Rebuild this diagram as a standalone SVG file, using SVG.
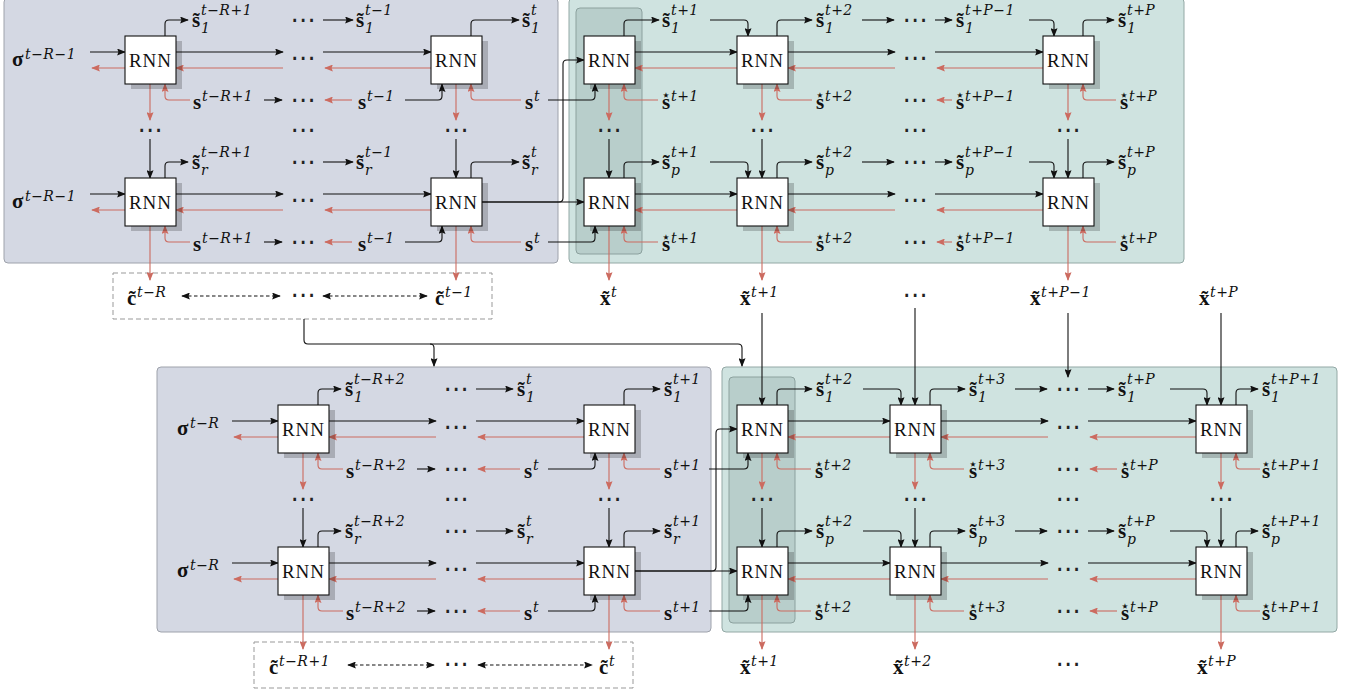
<svg xmlns="http://www.w3.org/2000/svg" width="1348" height="689" viewBox="0 0 1348 689">
<style>
.pl{fill:#d4d8e3;stroke:#9ea2ab;stroke-width:1}
.pt{fill:#cfe3e0;stroke:#93a8a5;stroke-width:1}
.pi{fill:#b8cecb;stroke:#8ca19e;stroke-width:1}
.db{fill:#fff;stroke:#999;stroke-width:1;stroke-dasharray:5 3}
.k{fill:none;stroke:#111;stroke-width:1.1;marker-end:url(#ak)}
.r{fill:none;stroke:#cc6b60;stroke-width:1.1;marker-end:url(#ar)}
.d{fill:none;stroke:#111;stroke-width:1.1;stroke-dasharray:3.5 2.5;marker-start:url(#ak);marker-end:url(#ak)}
.sh{fill:#000;fill-opacity:0.2}
.box{fill:#fff;stroke:#111;stroke-width:1.1}
.rnn{font-family:"Liberation Serif","Times New Roman",serif;font-size:19px;text-anchor:middle;letter-spacing:1px;fill:#111}
.b{font-family:"Liberation Serif","Times New Roman",serif;font-weight:bold;font-size:21px;fill:#111}
.sc{font-family:"DejaVu Serif",serif;font-style:italic;font-weight:normal;font-size:14px;letter-spacing:0.5px}
.st{font-family:"DejaVu Sans",sans-serif;font-size:15px;text-anchor:middle;fill:#111}
.dt{font-family:"DejaVu Sans",sans-serif;font-size:25px;text-anchor:middle;dominant-baseline:central;fill:#222}
</style>
<defs>
<marker id="ak" viewBox="0 0 10 8" refX="9" refY="4" markerWidth="9" markerHeight="7" orient="auto-start-reverse" markerUnits="userSpaceOnUse"><path d="M0,0 L10,4 L0,8 L1.5,4 z" fill="#111"/></marker>
<marker id="ar" viewBox="0 0 10 8" refX="9" refY="4" markerWidth="9" markerHeight="7" orient="auto-start-reverse" markerUnits="userSpaceOnUse"><path d="M0,0 L10,4 L0,8 L1.5,4 z" fill="#cc6b60"/></marker>
<g id="rnnbox"><rect class="sh" x="6" y="5" width="51" height="48"/><rect class="box" width="51" height="48"/><text class="rnn" x="25.5" y="30.5">RNN</text></g>
</defs>

<g id="panels">
<rect class="pl" x="4" y="-2" width="554" height="265" rx="4"/>
<rect class="pt" x="569" y="-2" width="615" height="265" rx="4"/>
<rect class="pi" x="576" y="8" width="66" height="246" rx="4"/>
<rect class="db" x="113" y="273" width="379" height="46"/>
<rect class="pl" x="157" y="367" width="554" height="265" rx="4"/>
<rect class="pt" x="722" y="367" width="615" height="265" rx="4"/>
<rect class="pi" x="729" y="377" width="66" height="246" rx="4"/>
<rect class="db" x="254" y="642" width="379" height="46"/>
</g>

<g id="connectors">
<!-- top-left row 1 -->
<path class="k" d="M90,52 H125"/>
<path class="r" d="M125,68 H92"/>
<path class="k" d="M176,52 H283"/>
<path class="r" d="M283,68 H176"/>
<path class="k" d="M323,52 H431"/>
<path class="r" d="M431,68 H325"/>
<path class="k" d="M165,36 V24 Q165,20 169,20 H188"/>
<path class="r" d="M190,100 H169 Q165,100 165,96 V84"/>
<path class="k" d="M264,100 H282"/>
<path class="k" d="M323,20 H353"/>
<path class="r" d="M352,100 H325"/>
<path class="k" d="M405,100 H438 Q442,100 442,96 V84"/>
<path class="k" d="M471,36 V24 Q471,20 475,20 H519"/>
<path class="r" d="M521,100 H475 Q471,100 471,96 V84"/>
<path class="k" d="M548,100 H591 Q595,100 595,96 V84"/>
<path class="r" d="M150,84 V120"/>
<path class="r" d="M456,84 V120"/>
<!-- top-left row 2 -->
<path class="k" d="M90,194 H125"/>
<path class="r" d="M125,210 H92"/>
<path class="k" d="M176,194 H283"/>
<path class="r" d="M283,210 H176"/>
<path class="k" d="M323,194 H431"/>
<path class="r" d="M431,210 H325"/>
<path class="k" d="M165,178 V166 Q165,162 169,162 H188"/>
<path class="r" d="M190,242 H169 Q165,242 165,238 V226"/>
<path class="k" d="M264,242 H282"/>
<path class="k" d="M323,162 H353"/>
<path class="r" d="M352,242 H325"/>
<path class="k" d="M405,242 H438 Q442,242 442,238 V226"/>
<path class="k" d="M471,178 V166 Q471,162 475,162 H519"/>
<path class="r" d="M521,242 H475 Q471,242 471,238 V226"/>
<path class="k" d="M548,242 H591 Q595,242 595,238 V226"/>
<path class="k" d="M150,139 V178"/>
<path class="k" d="M456,139 V178"/>
<path class="r" d="M150,226 V280"/>
<path class="r" d="M456,226 V280"/>
<path class="k" d="M482,202 H584"/>
<path class="k" d="M482,202 H559 Q563,202 563,198 V64 Q563,60 567,60 H584"/>
<!-- top-right row 1 -->
<path class="k" d="M624,36 V24 Q624,20 628,20 H659"/>
<path class="k" d="M710,20 H744 Q748,20 748,24 V36"/>
<path class="k" d="M635,52 H737"/>
<path class="r" d="M737,68 H635"/>
<path class="r" d="M658,100 H628 Q624,100 624,96 V84"/>
<path class="r" d="M609,84 V120"/>
<path class="k" d="M777,36 V24 Q777,20 781,20 H812"/>
<path class="k" d="M862,20 H894"/>
<path class="k" d="M935,20 H952"/>
<path class="k" d="M1029,20 H1050 Q1054,20 1054,24 V36"/>
<path class="k" d="M788,52 H895"/>
<path class="k" d="M935,52 H1043"/>
<path class="r" d="M1043,68 H937"/>
<path class="r" d="M895,68 H788"/>
<path class="r" d="M812,100 H781 Q777,100 777,96 V84"/>
<path class="r" d="M952,100 H937"/>
<path class="r" d="M762,84 V120"/>
<path class="k" d="M1083,36 V24 Q1083,20 1087,20 H1114"/>
<path class="r" d="M1116,100 H1087 Q1083,100 1083,96 V84"/>
<path class="r" d="M1068,84 V120"/>
<!-- top-right row 2 -->
<path class="k" d="M624,178 V166 Q624,162 628,162 H659"/>
<path class="k" d="M710,162 H744 Q748,162 748,166 V178"/>
<path class="k" d="M635,194 H737"/>
<path class="r" d="M737,210 H635"/>
<path class="r" d="M658,242 H628 Q624,242 624,238 V226"/>
<path class="k" d="M777,178 V166 Q777,162 781,162 H812"/>
<path class="k" d="M862,162 H894"/>
<path class="k" d="M935,162 H952"/>
<path class="k" d="M1029,162 H1050 Q1054,162 1054,166 V178"/>
<path class="k" d="M788,194 H895"/>
<path class="k" d="M935,194 H1043"/>
<path class="r" d="M1043,210 H937"/>
<path class="r" d="M895,210 H788"/>
<path class="r" d="M812,242 H781 Q777,242 777,238 V226"/>
<path class="r" d="M952,242 H937"/>
<path class="k" d="M1083,178 V166 Q1083,162 1087,162 H1114"/>
<path class="r" d="M1116,242 H1087 Q1083,242 1083,238 V226"/>
<path class="k" d="M609,139 V178"/>
<path class="k" d="M762,139 V178"/>
<path class="k" d="M1068,139 V178"/>
<path class="r" d="M609,226 V280"/>
<path class="r" d="M762,226 V280"/>
<path class="r" d="M1068,226 V280"/>
<!-- between top and bottom -->
<path class="d" d="M182,296 H280"/>
<path class="d" d="M323,296 H427"/>
<path class="k" d="M304,319 V340 Q304,344 308,344 H738 Q742,344 742,348 V366"/>
<path class="k" d="M430,344 Q434,344 434,348 V366"/>
<path class="k" d="M762,313 V405"/>
<path class="k" d="M915,308 V405"/>
<path class="k" d="M1068,313 V377"/>
<path class="k" d="M1221,313 V405"/>
<!-- bottom-left row 1 -->
<path class="k" d="M232,421 H278"/>
<path class="r" d="M278,437 H234"/>
<path class="k" d="M329,421 H436"/>
<path class="r" d="M436,437 H329"/>
<path class="k" d="M476,421 H584"/>
<path class="r" d="M584,437 H478"/>
<path class="k" d="M318,405 V393 Q318,389 322,389 H341"/>
<path class="r" d="M343,469 H322 Q318,469 318,465 V453"/>
<path class="k" d="M417,469 H435"/>
<path class="k" d="M476,389 H513"/>
<path class="r" d="M520,469 H478"/>
<path class="k" d="M548,469 H591 Q595,469 595,465 V453"/>
<path class="k" d="M624,405 V393 Q624,389 628,389 H660"/>
<path class="r" d="M660,469 H628 Q624,469 624,465 V453"/>
<path class="k" d="M709,469 H744 Q748,469 748,465 V453"/>
<path class="r" d="M303,453 V489"/>
<path class="r" d="M609,453 V489"/>
<!-- bottom-left row 2 -->
<path class="k" d="M232,563 H278"/>
<path class="r" d="M278,579 H234"/>
<path class="k" d="M329,563 H436"/>
<path class="r" d="M436,579 H329"/>
<path class="k" d="M476,563 H584"/>
<path class="r" d="M584,579 H478"/>
<path class="k" d="M318,547 V535 Q318,531 322,531 H341"/>
<path class="r" d="M343,611 H322 Q318,611 318,607 V595"/>
<path class="k" d="M417,611 H435"/>
<path class="k" d="M476,531 H513"/>
<path class="r" d="M520,611 H478"/>
<path class="k" d="M548,611 H591 Q595,611 595,607 V595"/>
<path class="k" d="M624,547 V535 Q624,531 628,531 H660"/>
<path class="r" d="M660,611 H628 Q624,611 624,607 V595"/>
<path class="k" d="M709,611 H744 Q748,611 748,607 V595"/>
<path class="k" d="M303,508 V547"/>
<path class="k" d="M609,508 V547"/>
<path class="r" d="M303,595 V649"/>
<path class="r" d="M609,595 V649"/>
<path class="k" d="M635,571 H737"/>
<path class="k" d="M635,571 H712 Q716,571 716,567 V433 Q716,429 720,429 H737"/>
<!-- bottom-right row 1 -->
<path class="k" d="M777,405 V393 Q777,389 781,389 H812"/>
<path class="k" d="M863,389 H897 Q901,389 901,393 V405"/>
<path class="k" d="M788,421 H890"/>
<path class="r" d="M890,437 H788"/>
<path class="r" d="M811,469 H781 Q777,469 777,465 V453"/>
<path class="r" d="M762,453 V489"/>
<path class="k" d="M930,405 V393 Q930,389 934,389 H965"/>
<path class="k" d="M1015,389 H1047"/>
<path class="k" d="M1088,389 H1114"/>
<path class="k" d="M1170,389 H1203 Q1207,389 1207,393 V405"/>
<path class="k" d="M941,421 H1048"/>
<path class="k" d="M1088,421 H1196"/>
<path class="r" d="M1196,437 H1090"/>
<path class="r" d="M1048,437 H941"/>
<path class="r" d="M964,469 H934 Q930,469 930,465 V453"/>
<path class="r" d="M1117,469 H1090"/>
<path class="r" d="M915,453 V489"/>
<path class="k" d="M1236,405 V393 Q1236,389 1240,389 H1258"/>
<path class="r" d="M1260,469 H1240 Q1236,469 1236,465 V453"/>
<path class="r" d="M1221,453 V489"/>
<!-- bottom-right row 2 -->
<path class="k" d="M777,547 V535 Q777,531 781,531 H812"/>
<path class="k" d="M863,531 H897 Q901,531 901,535 V547"/>
<path class="k" d="M788,563 H890"/>
<path class="r" d="M890,579 H788"/>
<path class="r" d="M811,611 H781 Q777,611 777,607 V595"/>
<path class="k" d="M930,547 V535 Q930,531 934,531 H965"/>
<path class="k" d="M1015,531 H1047"/>
<path class="k" d="M1088,531 H1114"/>
<path class="k" d="M1170,531 H1203 Q1207,531 1207,535 V547"/>
<path class="k" d="M941,563 H1048"/>
<path class="k" d="M1088,563 H1196"/>
<path class="r" d="M1196,579 H1090"/>
<path class="r" d="M1048,579 H941"/>
<path class="r" d="M964,611 H934 Q930,611 930,607 V595"/>
<path class="r" d="M1117,611 H1090"/>
<path class="k" d="M1236,547 V535 Q1236,531 1240,531 H1258"/>
<path class="r" d="M1260,611 H1240 Q1236,611 1236,607 V595"/>
<path class="k" d="M762,508 V547"/>
<path class="k" d="M915,508 V547"/>
<path class="k" d="M1221,508 V547"/>
<path class="r" d="M762,595 V649"/>
<path class="r" d="M915,595 V649"/>
<path class="r" d="M1221,595 V649"/>
<path class="d" d="M348,665 H434"/>
<path class="d" d="M478,665 H592"/>
</g>

<g id="nodes">
<g id="rnn-a1"><use href="#rnnbox" x="125" y="36"/></g>
<g id="rnn-a2"><use href="#rnnbox" x="125" y="178"/></g>
<g id="rnn-b1"><use href="#rnnbox" x="431" y="36"/></g>
<g id="rnn-b2"><use href="#rnnbox" x="431" y="178"/></g>
<g id="rnn-c1"><use href="#rnnbox" x="584" y="36"/></g>
<g id="rnn-c2"><use href="#rnnbox" x="584" y="178"/></g>
<g id="rnn-d1"><use href="#rnnbox" x="737" y="36"/></g>
<g id="rnn-d2"><use href="#rnnbox" x="737" y="178"/></g>
<g id="rnn-e1"><use href="#rnnbox" x="1043" y="36"/></g>
<g id="rnn-e2"><use href="#rnnbox" x="1043" y="178"/></g>
<g id="rnn-f1"><use href="#rnnbox" x="278" y="405"/></g>
<g id="rnn-f2"><use href="#rnnbox" x="278" y="547"/></g>
<g id="rnn-g1"><use href="#rnnbox" x="584" y="405"/></g>
<g id="rnn-g2"><use href="#rnnbox" x="584" y="547"/></g>
<g id="rnn-h1"><use href="#rnnbox" x="737" y="405"/></g>
<g id="rnn-h2"><use href="#rnnbox" x="737" y="547"/></g>
<g id="rnn-i1"><use href="#rnnbox" x="890" y="405"/></g>
<g id="rnn-i2"><use href="#rnnbox" x="890" y="547"/></g>
<g id="rnn-j1"><use href="#rnnbox" x="1196" y="405"/></g>
<g id="rnn-j2"><use href="#rnnbox" x="1196" y="547"/></g>
</g>

<g id="labels">
<!-- top-left -->
<text class="b" x="12" y="66">σ<tspan class="sc" x="25" y="59">t−R−1</tspan></text>
<text class="b" x="12" y="208">σ<tspan class="sc" x="25" y="201">t−R−1</tspan></text>
<text class="b" x="192" y="27">s&#x303;<tspan class="sc" x="201" y="33">1</tspan><tspan class="sc" x="201" y="15">t−R+1</tspan></text>
<text class="b" x="192" y="169">s&#x303;<tspan class="sc" x="201" y="175">r</tspan><tspan class="sc" x="201" y="157">t−R+1</tspan></text>
<text class="b" x="193" y="109">s<tspan class="sc" x="202" y="101">t−R+1</tspan></text>
<text class="b" x="193" y="251">s<tspan class="sc" x="202" y="243">t−R+1</tspan></text>
<text class="b" x="356" y="27">s&#x303;<tspan class="sc" x="365" y="33">1</tspan><tspan class="sc" x="365" y="15">t−1</tspan></text>
<text class="b" x="356" y="169">s&#x303;<tspan class="sc" x="365" y="175">r</tspan><tspan class="sc" x="365" y="157">t−1</tspan></text>
<text class="b" x="358" y="109">s<tspan class="sc" x="367" y="101">t−1</tspan></text>
<text class="b" x="358" y="251">s<tspan class="sc" x="367" y="243">t−1</tspan></text>
<text class="b" x="522" y="27">s&#x303;<tspan class="sc" x="531" y="33">1</tspan><tspan class="sc" x="531" y="15">t</tspan></text>
<text class="b" x="522" y="169">s&#x303;<tspan class="sc" x="531" y="175">r</tspan><tspan class="sc" x="531" y="157">t</tspan></text>
<text class="b" x="525" y="109">s<tspan class="sc" x="534" y="101">t</tspan></text>
<text class="b" x="525" y="251">s<tspan class="sc" x="534" y="243">t</tspan></text>
<!-- top-right -->
<text class="b" x="662" y="27">s&#x303;<tspan class="sc" x="671" y="33">1</tspan><tspan class="sc" x="671" y="15">t+1</tspan></text>
<text class="b" x="662" y="169">s&#x303;<tspan class="sc" x="671" y="175">p</tspan><tspan class="sc" x="671" y="157">t+1</tspan></text>
<text class="b" x="662" y="109">s<tspan class="sc" x="671" y="101">t+1</tspan></text>
<text class="st" x="666" y="100">⋆</text>
<text class="b" x="662" y="251">s<tspan class="sc" x="671" y="243">t+1</tspan></text>
<text class="st" x="666" y="242">⋆</text>
<text class="b" x="816" y="27">s&#x303;<tspan class="sc" x="825" y="33">1</tspan><tspan class="sc" x="825" y="15">t+2</tspan></text>
<text class="b" x="816" y="169">s&#x303;<tspan class="sc" x="825" y="175">p</tspan><tspan class="sc" x="825" y="157">t+2</tspan></text>
<text class="b" x="816" y="109">s<tspan class="sc" x="825" y="101">t+2</tspan></text>
<text class="st" x="820" y="100">⋆</text>
<text class="b" x="816" y="251">s<tspan class="sc" x="825" y="243">t+2</tspan></text>
<text class="st" x="820" y="242">⋆</text>
<text class="b" x="956" y="27">s&#x303;<tspan class="sc" x="965" y="33">1</tspan><tspan class="sc" x="965" y="15">t+P−1</tspan></text>
<text class="b" x="956" y="169">s&#x303;<tspan class="sc" x="965" y="175">p</tspan><tspan class="sc" x="965" y="157">t+P−1</tspan></text>
<text class="b" x="956" y="109">s<tspan class="sc" x="965" y="101">t+P−1</tspan></text>
<text class="st" x="960" y="100">⋆</text>
<text class="b" x="956" y="251">s<tspan class="sc" x="965" y="243">t+P−1</tspan></text>
<text class="st" x="960" y="242">⋆</text>
<text class="b" x="1118" y="27">s&#x303;<tspan class="sc" x="1127" y="33">1</tspan><tspan class="sc" x="1127" y="15">t+P</tspan></text>
<text class="b" x="1118" y="169">s&#x303;<tspan class="sc" x="1127" y="175">p</tspan><tspan class="sc" x="1127" y="157">t+P</tspan></text>
<text class="b" x="1120" y="109">s<tspan class="sc" x="1129" y="101">t+P</tspan></text>
<text class="st" x="1124" y="100">⋆</text>
<text class="b" x="1120" y="251">s<tspan class="sc" x="1129" y="243">t+P</tspan></text>
<text class="st" x="1124" y="242">⋆</text>
<!-- top dots -->
<text class="dt" x="303" y="19">⋯</text>
<text class="dt" x="303" y="57">⋯</text>
<text class="dt" x="303" y="99">⋯</text>
<text class="dt" x="303" y="161">⋯</text>
<text class="dt" x="303" y="199">⋯</text>
<text class="dt" x="303" y="241">⋯</text>
<text class="dt" x="915" y="19">⋯</text>
<text class="dt" x="915" y="57">⋯</text>
<text class="dt" x="915" y="99">⋯</text>
<text class="dt" x="915" y="161">⋯</text>
<text class="dt" x="915" y="199">⋯</text>
<text class="dt" x="915" y="241">⋯</text>
<text class="dt" x="150" y="129">⋯</text>
<text class="dt" x="303" y="129">⋯</text>
<text class="dt" x="456" y="129">⋯</text>
<text class="dt" x="609" y="129">⋯</text>
<text class="dt" x="762" y="129">⋯</text>
<text class="dt" x="915" y="129">⋯</text>
<text class="dt" x="1068" y="129">⋯</text>
<!-- top outputs -->
<text class="b" x="127" y="305">c&#x303;<tspan class="sc" x="137" y="297">t−R</tspan></text>
<text class="dt" x="303" y="294">⋯</text>
<text class="b" x="435" y="305">c&#x303;<tspan class="sc" x="445" y="297">t−1</tspan></text>
<text class="b" x="600" y="305">x&#x303;<tspan class="sc" x="611" y="297">t</tspan></text>
<text class="b" x="740" y="305">x&#x303;<tspan class="sc" x="751" y="297">t+1</tspan></text>
<text class="dt" x="915" y="294">⋯</text>
<text class="b" x="1030" y="305">x&#x303;<tspan class="sc" x="1041" y="297">t+P−1</tspan></text>
<text class="b" x="1199" y="305">x&#x303;<tspan class="sc" x="1210" y="297">t+P</tspan></text>
<!-- bottom-left -->
<text class="b" x="177" y="435">σ<tspan class="sc" x="190" y="428">t−R</tspan></text>
<text class="b" x="177" y="577">σ<tspan class="sc" x="190" y="570">t−R</tspan></text>
<text class="b" x="345" y="396">s&#x303;<tspan class="sc" x="354" y="402">1</tspan><tspan class="sc" x="354" y="384">t−R+2</tspan></text>
<text class="b" x="345" y="538">s&#x303;<tspan class="sc" x="354" y="544">r</tspan><tspan class="sc" x="354" y="526">t−R+2</tspan></text>
<text class="b" x="346" y="478">s<tspan class="sc" x="355" y="470">t−R+2</tspan></text>
<text class="b" x="346" y="620">s<tspan class="sc" x="355" y="612">t−R+2</tspan></text>
<text class="b" x="517" y="396">s&#x303;<tspan class="sc" x="526" y="402">1</tspan><tspan class="sc" x="526" y="384">t</tspan></text>
<text class="b" x="517" y="538">s&#x303;<tspan class="sc" x="526" y="544">r</tspan><tspan class="sc" x="526" y="526">t</tspan></text>
<text class="b" x="524" y="478">s<tspan class="sc" x="533" y="470">t</tspan></text>
<text class="b" x="524" y="620">s<tspan class="sc" x="533" y="612">t</tspan></text>
<text class="b" x="664" y="396">s&#x303;<tspan class="sc" x="673" y="402">1</tspan><tspan class="sc" x="673" y="384">t+1</tspan></text>
<text class="b" x="664" y="538">s&#x303;<tspan class="sc" x="673" y="544">r</tspan><tspan class="sc" x="673" y="526">t+1</tspan></text>
<text class="b" x="664" y="478">s<tspan class="sc" x="673" y="470">t+1</tspan></text>
<text class="b" x="664" y="620">s<tspan class="sc" x="673" y="612">t+1</tspan></text>
<!-- bottom-right -->
<text class="b" x="816" y="396">s&#x303;<tspan class="sc" x="825" y="402">1</tspan><tspan class="sc" x="825" y="384">t+2</tspan></text>
<text class="b" x="816" y="538">s&#x303;<tspan class="sc" x="825" y="544">p</tspan><tspan class="sc" x="825" y="526">t+2</tspan></text>
<text class="b" x="815" y="478">s<tspan class="sc" x="824" y="470">t+2</tspan></text>
<text class="st" x="819" y="469">⋆</text>
<text class="b" x="815" y="620">s<tspan class="sc" x="824" y="612">t+2</tspan></text>
<text class="st" x="819" y="611">⋆</text>
<text class="b" x="969" y="396">s&#x303;<tspan class="sc" x="978" y="402">1</tspan><tspan class="sc" x="978" y="384">t+3</tspan></text>
<text class="b" x="969" y="538">s&#x303;<tspan class="sc" x="978" y="544">p</tspan><tspan class="sc" x="978" y="526">t+3</tspan></text>
<text class="b" x="969" y="478">s<tspan class="sc" x="978" y="470">t+3</tspan></text>
<text class="st" x="973" y="469">⋆</text>
<text class="b" x="969" y="620">s<tspan class="sc" x="978" y="612">t+3</tspan></text>
<text class="st" x="973" y="611">⋆</text>
<text class="b" x="1118" y="396">s&#x303;<tspan class="sc" x="1127" y="402">1</tspan><tspan class="sc" x="1127" y="384">t+P</tspan></text>
<text class="b" x="1118" y="538">s&#x303;<tspan class="sc" x="1127" y="544">p</tspan><tspan class="sc" x="1127" y="526">t+P</tspan></text>
<text class="b" x="1121" y="478">s<tspan class="sc" x="1130" y="470">t+P</tspan></text>
<text class="st" x="1125" y="469">⋆</text>
<text class="b" x="1121" y="620">s<tspan class="sc" x="1130" y="612">t+P</tspan></text>
<text class="st" x="1125" y="611">⋆</text>
<text class="b" x="1262" y="396">s&#x303;<tspan class="sc" x="1271" y="402">1</tspan><tspan class="sc" x="1271" y="384">t+P+1</tspan></text>
<text class="b" x="1262" y="538">s&#x303;<tspan class="sc" x="1271" y="544">p</tspan><tspan class="sc" x="1271" y="526">t+P+1</tspan></text>
<text class="b" x="1262" y="478">s<tspan class="sc" x="1271" y="470">t+P+1</tspan></text>
<text class="st" x="1266" y="469">⋆</text>
<text class="b" x="1262" y="620">s<tspan class="sc" x="1271" y="612">t+P+1</tspan></text>
<text class="st" x="1266" y="611">⋆</text>
<!-- bottom dots -->
<text class="dt" x="456" y="388">⋯</text>
<text class="dt" x="456" y="426">⋯</text>
<text class="dt" x="456" y="468">⋯</text>
<text class="dt" x="456" y="530">⋯</text>
<text class="dt" x="456" y="568">⋯</text>
<text class="dt" x="456" y="610">⋯</text>
<text class="dt" x="1068" y="388">⋯</text>
<text class="dt" x="1068" y="426">⋯</text>
<text class="dt" x="1068" y="468">⋯</text>
<text class="dt" x="1068" y="530">⋯</text>
<text class="dt" x="1068" y="568">⋯</text>
<text class="dt" x="1068" y="610">⋯</text>
<text class="dt" x="303" y="498">⋯</text>
<text class="dt" x="456" y="498">⋯</text>
<text class="dt" x="609" y="498">⋯</text>
<text class="dt" x="762" y="498">⋯</text>
<text class="dt" x="915" y="498">⋯</text>
<text class="dt" x="1068" y="498">⋯</text>
<text class="dt" x="1221" y="498">⋯</text>
<!-- bottom outputs -->
<text class="b" x="269" y="674">c&#x303;<tspan class="sc" x="279" y="666">t−R+1</tspan></text>
<text class="dt" x="456" y="663">⋯</text>
<text class="b" x="599" y="674">c&#x303;<tspan class="sc" x="609" y="666">t</tspan></text>
<text class="b" x="740" y="674">x&#x303;<tspan class="sc" x="751" y="666">t+1</tspan></text>
<text class="b" x="893" y="674">x&#x303;<tspan class="sc" x="904" y="666">t+2</tspan></text>
<text class="dt" x="1068" y="663">⋯</text>
<text class="b" x="1197" y="674">x&#x303;<tspan class="sc" x="1208" y="666">t+P</tspan></text>
</g>
</svg>
